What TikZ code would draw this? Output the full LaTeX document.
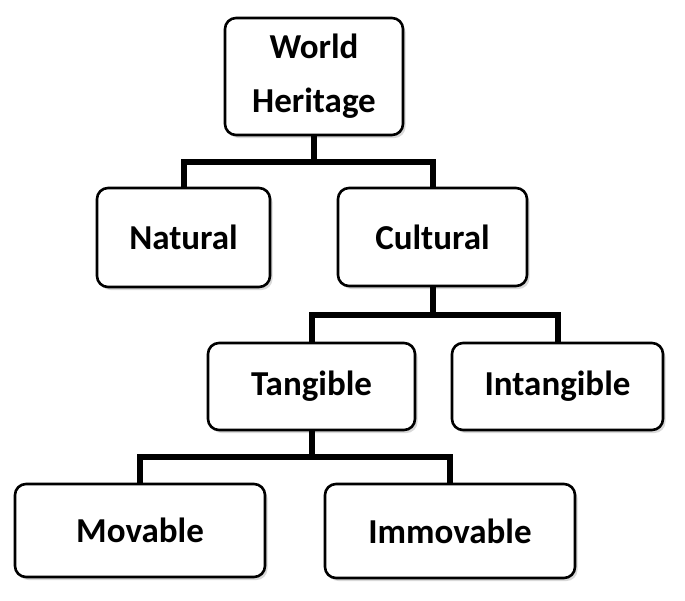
\documentclass[tikz,border=0pt]{standalone}
\usepackage{fontspec}
\setmainfont{Carlito}
\usepackage{tikz}
\usetikzlibrary{calc}
\usetikzlibrary{shadows}

\tikzset{
  heritagebox/.style={draw, line width=2.6pt, rounded corners=11pt, fill=white,
    inner sep=0pt, align=center,
    font=\bfseries\fontsize{35}{54}\selectfont,
    drop shadow={shadow xshift=2.5pt, shadow yshift=-3pt, opacity=0.3}},
  branch/.style={line width=6pt, line join=miter,
    to path={|- ($(\tikztostart)!.5!(\tikztotarget)$) -| (\tikztotarget)}}
}

\begin{document}
\begin{tikzpicture}[x=1pt, y=-1pt]
    \useasboundingbox (0,0) rectangle (685,600);
    \node[heritagebox, minimum width=178pt, minimum height=117pt] (WH)  at (314,   76.5) {World\\Heritage};
    \node[heritagebox, minimum width=173pt, minimum height=99pt]  (Nat) at (183.5, 237.5) {Natural};
    \node[heritagebox, minimum width=189pt, minimum height=98pt]  (Cul) at (432.5, 237)   {Cultural};
    \node[heritagebox, minimum width=207pt, minimum height=87pt]  (Tan) at (311.5, 386.5) {Tangible};
    \node[heritagebox, minimum width=211pt, minimum height=87pt]  (Int) at (557.5, 386.5) {Intangible};
    \node[heritagebox, minimum width=250pt, minimum height=93pt]  (Mov) at (140,   530.5) {Movable};
    \node[heritagebox, minimum width=250pt, minimum height=94pt]  (Imm) at (450,   531)   {Immovable};
    \draw (WH.south)  edge[branch] (Nat.north);
    \draw (WH.south)  edge[branch] (Cul.north);
    \draw (Cul.south) edge[branch] (Tan.north);
    \draw (Cul.south) edge[branch] (Int.north);
    \draw (Tan.south) edge[branch] (Mov.north);
    \draw (Tan.south) edge[branch] (Imm.north);
  \end{tikzpicture}
\end{document}
